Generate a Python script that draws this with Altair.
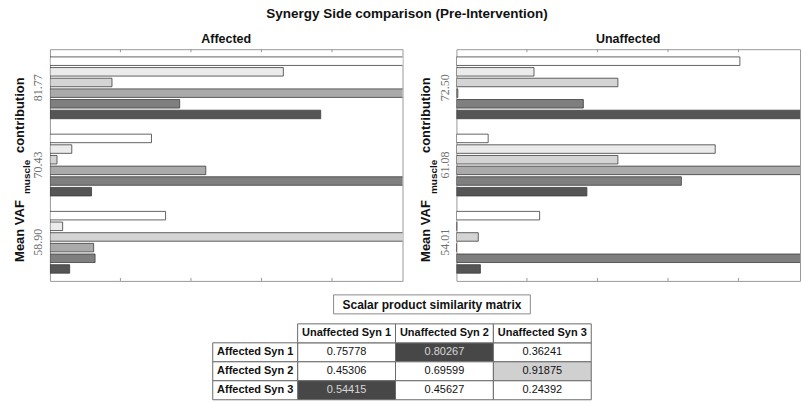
import altair as alt
import pandas as pd

# ---------------------------------------------------------------- data
muscles = ["m1", "m2", "m3", "m4", "m5", "m6"]

# Affected side: synergy VAF (axis labels) and muscle weights per synergy
affected_vaf = ["81.77", "70.43", "58.90"]
affected_syn1 = [0.55, 0.331, 0.088, 0.53, 0.184, 0.384]
affected_syn2 = [0.144, 0.031, 0.010, 0.221, 0.56, 0.059]
affected_syn3 = [0.164, 0.018, 0.54, 0.062, 0.064, 0.028]

# Unaffected side
unaffected_vaf = ["72.50", "61.08", "54.01"]
unaffected_syn1 = [0.402, 0.110, 0.229, 0.002, 0.180, 0.55]
unaffected_syn2 = [0.045, 0.367, 0.229, 0.56, 0.319, 0.185]
unaffected_syn3 = [0.118, 0.0005, 0.031, 0.0, 0.55, 0.034]

x_ticks = [0.1, 0.2, 0.3, 0.4]

# Scalar product similarity matrix
col_labels = ["Unaffected Syn 1", "Unaffected Syn 2", "Unaffected Syn 3"]
row_labels = ["Affected Syn 1", "Affected Syn 2", "Affected Syn 3"]
sim_row1 = [0.75778, 0.80267, 0.36241]
sim_row2 = [0.45306, 0.69599, 0.91875]
sim_row3 = [0.54415, 0.45627, 0.24392]
matched_col = [1, 2, 0]  # paired unaffected synergy for each affected one

# ---------------------------------------------------------------- style
FONT = "Liberation Sans"
SHADES = ["#ffffff", "#ebebeb", "#d4d4d4", "#aaaaaa", "#7f7f7f", "#555555"]
FRAME = "#9a9a9a"
PLOT_H = 232
XMAX = 0.5  # axis limit for a 353 px wide panel


def synergy_panel(title, vaf, weights, width, xmax):
    df = pd.DataFrame(
        [
            {"vaf": g, "muscle": m, "w": v}
            for g, ws in zip(vaf, weights)
            for m, v in zip(muscles, ws)
        ]
    )
    xenc = alt.X(
        "w:Q", scale=alt.Scale(domain=[0, xmax], nice=False, zero=True), axis=None
    )
    bars = (
        alt.Chart(df)
        .mark_bar(clip=True, stroke="#3d3d3d", strokeWidth=0.8, opacity=1)
        .encode(
            x=xenc,
            y=alt.Y(
                "vaf:N",
                sort=vaf,
                scale=alt.Scale(paddingInner=0.2, paddingOuter=0.1),
                axis=alt.Axis(
                    title=None,
                    domain=False,
                    ticks=False,
                    labelAngle=270,
                    labelAlign="center",
                    labelBaseline="alphabetic",
                    labelPadding=8,
                    labelFont="Liberation Serif",
                    labelFontSize=12,
                    labelColor="#707070",
                ),
            ),
            yOffset=alt.YOffset(
                "muscle:N", sort=muscles, scale=alt.Scale(paddingInner=0.2)
            ),
            color=alt.Color(
                "muscle:N",
                scale=alt.Scale(domain=muscles, range=SHADES),
                legend=None,
            ),
        )
    )
    tick_df = pd.DataFrame({"w": x_ticks})
    top_ticks = (
        alt.Chart(tick_df)
        .mark_rule(color=FRAME)
        .encode(x=xenc, y=alt.value(0), y2=alt.value(3))
    )
    bottom_ticks = (
        alt.Chart(tick_df)
        .mark_rule(color=FRAME)
        .encode(x=xenc, y=alt.value(PLOT_H), y2=alt.value(PLOT_H - 3))
    )

    # y title: "Mean VAF" with subscript "muscle", then "contribution"
    def title_part(text, size, x, y):
        return (
            alt.Chart(alt.Data(values=[{}]))
            .mark_text(
                text=text,
                angle=270,
                font=FONT,
                fontSize=size,
                fontWeight="bold",
                align="left",
                baseline="alphabetic",
                color="#111111",
            )
            .encode(x=alt.value(x), y=alt.value(y))
        )

    ytitle = [
        title_part("Mean VAF", 13, -26, 213),
        title_part("muscle", 10, -19.5, 145),
        title_part("contribution", 13, -26, 104),
    ]

    return alt.layer(bars, top_ticks, bottom_ticks, *ytitle).properties(
        width=width,
        height=PLOT_H,
        title=alt.TitleParams(
            title, font=FONT, fontSize=12.5, fontWeight="bold", offset=3, color="#111111"
        ),
    )


left = synergy_panel(
    "Affected", affected_vaf, [affected_syn1, affected_syn2, affected_syn3], 353, XMAX
)
right = synergy_panel(
    "Unaffected",
    unaffected_vaf,
    [unaffected_syn1, unaffected_syn2, unaffected_syn3],
    344,
    XMAX * 344 / 353,
)

# ---------------------------------------------------------------- table
sim_rows = [sim_row1, sim_row2, sim_row3]
cells = []
for r, (rl, vals) in enumerate(zip(row_labels, sim_rows)):
    for c, (cl, v) in enumerate(zip(col_labels, vals)):
        if matched_col[r] == c:
            kind = "strong" if v >= 0.9 else "paired"
        else:
            kind = "plain"
        cells.append({"row": rl, "col": cl, "txt": f"{v:.5f}", "kind": kind})
cells_df = pd.DataFrame(cells)
colhdr_df = pd.DataFrame({"row": ["hdr"] * 3, "col": col_labels})
rowhdr_df = pd.DataFrame({"row": row_labels, "col": ["hdr"] * 3})

row_domain = ["hdr"] + row_labels
y_tab = alt.Y(
    "row:N", scale=alt.Scale(domain=row_domain, range=[37, 113], paddingInner=0, paddingOuter=0), axis=None
)
x_cols = alt.X(
    "col:N", scale=alt.Scale(domain=col_labels, range=[248, 542], paddingInner=0, paddingOuter=0), axis=None
)
x_rowhdr = alt.X(
    "col:N", scale=alt.Scale(domain=["hdr"], range=[163, 248], paddingInner=0, paddingOuter=0), axis=None
)
GRID = "#6a6a6a"

cell_rects = (
    alt.Chart(cells_df)
    .mark_rect(stroke=GRID, strokeWidth=1)
    .encode(
        x=x_cols,
        y=y_tab,
        fill=alt.Fill(
            "kind:N",
            scale=alt.Scale(domain=["plain", "paired", "strong"], range=["#ffffff", "#474747", "#d0d0d0"]),
            legend=None,
        ),
    )
)
cell_text = (
    alt.Chart(cells_df)
    .mark_text(font=FONT, fontSize=11)
    .encode(
        x=x_cols,
        y=y_tab,
        text="txt:N",
        color=alt.Color(
            "kind:N",
            scale=alt.Scale(domain=["plain", "paired", "strong"], range=["#111111", "#d8d8d8", "#111111"]),
            legend=None,
        ),
    )
)
colhdr_rects = (
    alt.Chart(colhdr_df)
    .mark_rect(stroke=GRID, strokeWidth=1, fill="#ffffff")
    .encode(x=x_cols, y=y_tab)
)
colhdr_text = (
    alt.Chart(colhdr_df)
    .mark_text(font=FONT, fontSize=11, fontWeight="bold", color="#111111")
    .encode(x=x_cols, y=y_tab, text="col:N")
)
rowhdr_rects = (
    alt.Chart(rowhdr_df)
    .mark_rect(stroke=GRID, strokeWidth=1, fill="#ffffff")
    .encode(x=x_rowhdr, y=y_tab)
)
rowhdr_text = (
    alt.Chart(rowhdr_df)
    .mark_text(font=FONT, fontSize=11, fontWeight="bold", color="#111111")
    .encode(x=x_rowhdr, y=y_tab, text="row:N")
)
caption_box = (
    alt.Chart(alt.Data(values=[{}]))
    .mark_rect(fill="#ffffff", stroke="#8a8a8a", strokeWidth=1)
    .encode(x=alt.value(284), x2=alt.value(481), y=alt.value(8), y2=alt.value(27))
)
caption_text = (
    alt.Chart(alt.Data(values=[{}]))
    .mark_text(
        text="Scalar product similarity matrix",
        font=FONT,
        fontSize=12,
        fontWeight="bold",
        color="#111111",
        baseline="middle",
    )
    .encode(x=alt.value(382.5), y=alt.value(18))
)

table = (
    alt.layer(
        caption_box,
        caption_text,
        cell_rects,
        cell_text,
        colhdr_rects,
        colhdr_text,
        rowhdr_rects,
        rowhdr_text,
    )
    .resolve_scale(x="independent", fill="independent", color="independent")
    .properties(width=751, height=118, view=alt.ViewBackground(stroke="transparent"))
)

panels = alt.hconcat(left, right, spacing=54, bounds="flush")

chart = (
    alt.vconcat(
        panels,
        table,
        spacing=4,
        title=alt.TitleParams(
            "Synergy Side comparison (Pre-Intervention)",
            font=FONT,
            fontSize=13.5,
            fontWeight="bold",
            color="#111111",
            anchor="middle",
            offset=12,
        ),
    )
    .properties(padding={"left": 13, "top": 7, "right": 0, "bottom": 0})
    .configure_view(stroke=FRAME, strokeWidth=1)
)

chart.save("out.html", embed_options={"renderer": "svg", "actions": False})
